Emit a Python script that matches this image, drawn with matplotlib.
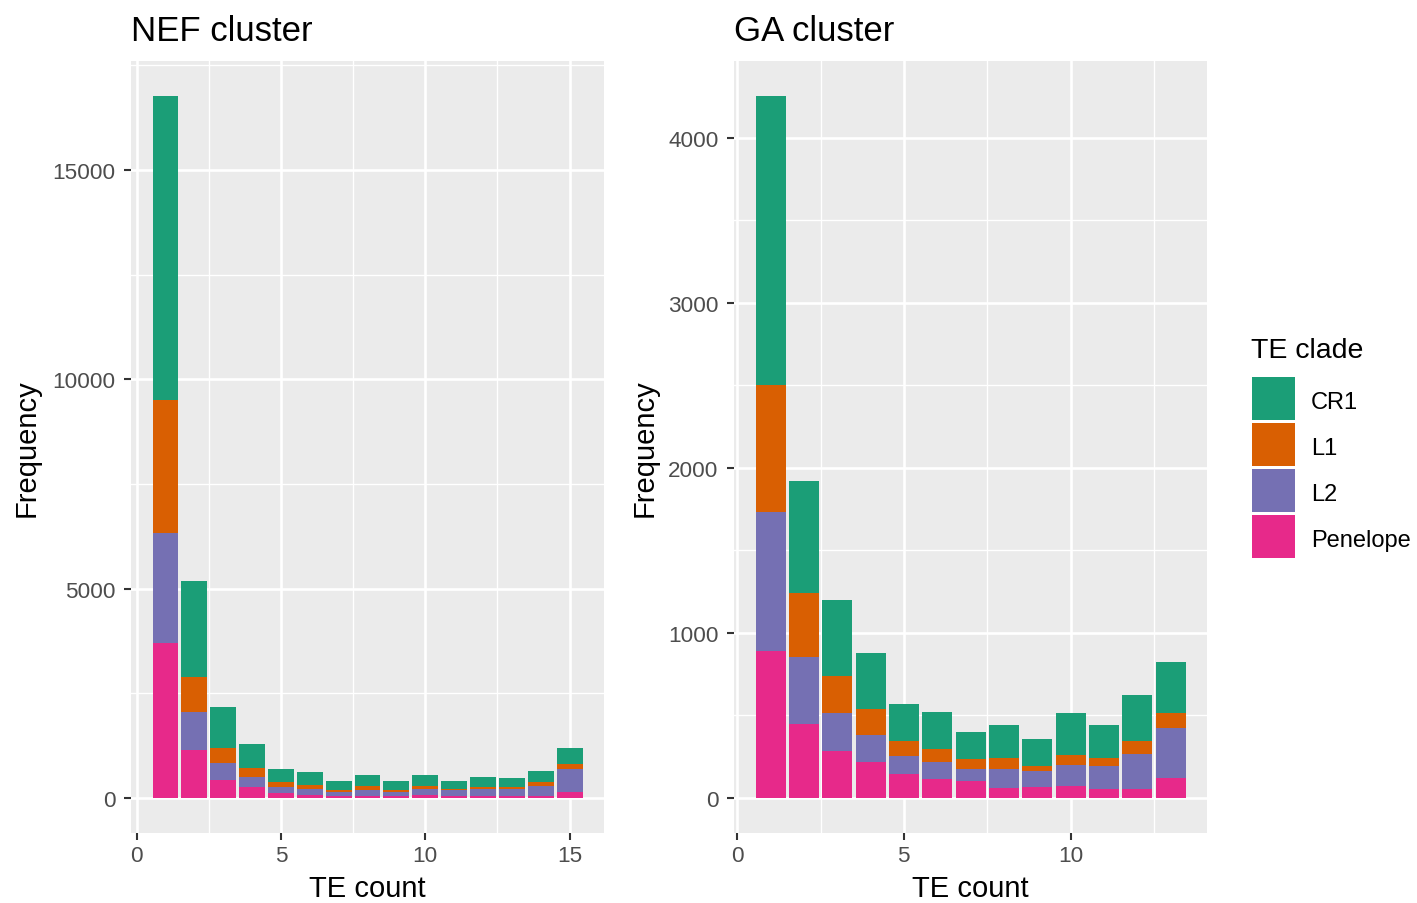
import numpy as np
import matplotlib
matplotlib.use("Agg")
import matplotlib.pyplot as plt
from matplotlib.patches import Rectangle
from matplotlib.ticker import FixedLocator

plt.rcParams['font.family'] = ['Liberation Sans', 'DejaVu Sans']

clades = ["CR1", "L1", "L2", "Penelope"]
colors = {"CR1": "#1B9E77", "L1": "#D95F02", "L2": "#7570B3", "Penelope": "#E7298A"}

# NEF cluster, TE count 1..15
nef_x = list(range(1, 16))
nef_penelope = [3700, 1140, 420, 255, 120, 70, 40, 40, 40, 70, 40, 40, 40, 40, 135]
nef_l2 = [2620, 905, 413, 246, 136, 135, 95, 143, 95, 135, 143, 167, 167, 239, 549]
nef_l1 = [3196, 842, 350, 207, 119, 111, 48, 96, 48, 72, 39, 48, 48, 95, 127]
nef_cr1 = [7250, 2290, 978, 573, 310, 295, 215, 262, 215, 262, 176, 246, 222, 270, 374]

# GA cluster, TE count 1..13
ga_x = list(range(1, 14))
ga_penelope = [890, 448, 285, 218, 145, 117, 105, 61, 69, 73, 56, 56, 121]
ga_l2 = [845, 407, 231, 165, 109, 101, 72, 116, 96, 129, 138, 210, 303]
ga_l1 = [769, 388, 222, 158, 93, 80, 61, 65, 29, 60, 48, 81, 92]
ga_cr1 = [1749, 676, 460, 337, 222, 223, 162, 200, 163, 253, 200, 276, 307]

W, H = 1417, 904
fig = plt.figure(figsize=(W / 100, H / 100), dpi=100)

def fx(x):
    return x / W

def fy(y):
    return 1 - y / H

PANEL_TOP, PANEL_BOTTOM = 62, 834

def panel(left_px, title, x, pen, l2, l1, cr1, yticks, xticks, ylabel_x):
    hpx = PANEL_BOTTOM - PANEL_TOP
    ax = fig.add_axes([fx(left_px), fy(PANEL_BOTTOM), 473 / W, hpx / H])
    ax.set_facecolor("#EBEBEB")
    bottom = np.zeros(len(x))
    for name, vals in [("Penelope", pen), ("L2", l2), ("L1", l1), ("CR1", cr1)]:
        ax.bar(x, vals, width=0.9, bottom=bottom, color=colors[name], linewidth=0, zorder=3)
        bottom = bottom + np.array(vals)
    total = bottom.max()
    ax.set_ylim(-0.05 * total, 1.05 * total)
    span = (x[-1] + 0.45) - (x[0] - 0.45)
    ax.set_xlim(x[0] - 0.45 - 0.05 * span, x[-1] + 0.45 + 0.05 * span)
    ax.set_yticks(yticks)
    ax.set_yticklabels([str(v) for v in yticks])
    ax.set_xticks(xticks)
    ax.set_xticklabels([str(v) for v in xticks])
    ystep = yticks[1] - yticks[0]
    ax.yaxis.set_minor_locator(FixedLocator(list(np.arange(yticks[0] - ystep / 2, 1.05 * total, ystep))))
    ax.xaxis.set_minor_locator(FixedLocator([2.5, 7.5, 12.5]))
    ax.grid(which="major", color="white", linewidth=1.9, zorder=1)
    ax.grid(which="minor", color="white", linewidth=0.95, zorder=1)
    ax.set_axisbelow(True)
    for s in ax.spines.values():
        s.set_visible(False)
    ax.tick_params(which="major", length=5, width=1.5, color="#333333",
                   labelsize=16.2, labelcolor="#4D4D4D")
    ax.tick_params(axis="y", pad=6)
    ax.tick_params(axis="x", pad=3.5)
    ax.tick_params(which="minor", length=0)
    ax.set_xlabel("TE count", fontsize=21, color="black")
    ax.xaxis.label.set_verticalalignment("baseline")
    ax.xaxis.set_label_coords(0.5, -(897 - PANEL_BOTTOM) / hpx)
    ax.set_ylabel("Frequency", fontsize=21, color="black")
    ax.yaxis.set_label_coords(ylabel_x, 0.5)
    fig.text(fx(left_px), fy(41), title, fontsize=25, ha="left", va="baseline", color="black")
    return ax

panel(131, "NEF cluster", nef_x, nef_penelope, nef_l2, nef_l1, nef_cr1,
      [0, 5000, 10000, 15000], [0, 5, 10, 15], -0.192)
panel(734, "GA cluster", ga_x, ga_penelope, ga_l2, ga_l1, ga_cr1,
      [0, 1000, 2000, 3000, 4000], [0, 5, 10], -0.160)

# Legend
fig.text(fx(1251), fy(358), "TE clade", fontsize=20.5, ha="left", va="baseline")
key_tops = [378, 424, 470, 516]
for name, top in zip(clades, key_tops):
    fig.patches.append(Rectangle((fx(1252), fy(top + 43)), 43 / W, 43 / H,
                                 transform=fig.transFigure, facecolor=colors[name],
                                 edgecolor="none"))
    fig.text(fx(1311), fy(top + 31), name, fontsize=17, ha="left", va="baseline")

fig.savefig("out.png", dpi=100)
